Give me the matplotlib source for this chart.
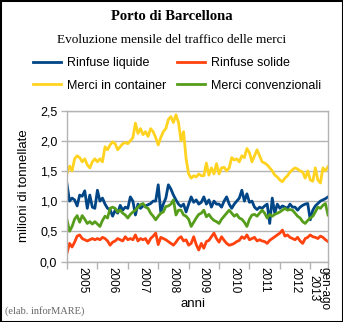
import numpy as np
import matplotlib
matplotlib.use("Agg")
import matplotlib.pyplot as plt
from matplotlib.patches import Rectangle

# monthly traffic, Jan 2005 - Aug 2013 (million tonnes)
liquide = [
    1.28, 1.00, 1.05, 1.02, 0.92, 1.10, 1.08, 1.17, 0.88, 1.10, 0.90, 0.88,
    1.18, 1.00, 1.05, 0.95, 0.88, 0.86, 0.75, 0.85, 0.80, 0.93, 0.85, 0.90,
    0.88, 1.07, 1.00, 0.77, 0.95, 0.88, 0.92, 0.92, 0.94, 0.96, 1.00, 1.00,
    1.27, 0.82, 0.95, 1.05, 1.27, 1.20, 1.10, 1.02, 0.95, 0.91, 0.95, 0.82,
    0.95, 1.07, 0.98, 1.02, 0.95, 0.98, 1.07, 0.95, 1.02, 0.90, 1.00, 0.95,
    0.95, 0.90, 1.00, 1.07, 0.95, 0.88, 0.95, 1.00, 1.05, 1.18, 1.00, 1.12,
    0.98, 1.00, 0.90, 0.86, 0.90, 0.88, 0.92, 0.95, 0.63, 1.05, 0.80, 0.95,
    0.88, 0.92, 0.90, 0.88, 0.95, 0.90, 0.90, 0.85, 0.90, 0.93, 0.95, 0.96,
    0.69, 0.85, 0.92, 0.96, 1.00, 1.02, 1.04, 1.07,
]
solide = [
    0.14, 0.30, 0.24, 0.32, 0.42, 0.44, 0.38, 0.36, 0.34, 0.36, 0.38, 0.36,
    0.38, 0.36, 0.40, 0.38, 0.34, 0.27, 0.32, 0.34, 0.38, 0.36, 0.34, 0.41,
    0.36, 0.38, 0.36, 0.44, 0.34, 0.38, 0.36, 0.38, 0.30, 0.38, 0.42, 0.47,
    0.28, 0.40, 0.38, 0.36, 0.33, 0.30, 0.27, 0.32, 0.38, 0.41, 0.34, 0.36,
    0.27, 0.30, 0.41, 0.28, 0.19, 0.30, 0.22, 0.33, 0.35, 0.41, 0.47, 0.38,
    0.32, 0.41, 0.35, 0.30, 0.27, 0.28, 0.30, 0.33, 0.35, 0.41, 0.38, 0.44,
    0.36, 0.38, 0.40, 0.34, 0.36, 0.34, 0.33, 0.30, 0.35, 0.38, 0.41, 0.44,
    0.47, 0.52, 0.42, 0.44, 0.40, 0.38, 0.36, 0.40, 0.34, 0.30, 0.38, 0.40,
    0.44, 0.41, 0.40, 0.38, 0.42, 0.40, 0.36, 0.33,
]
container = [
    1.46, 1.58, 1.50, 1.70, 1.75, 1.72, 1.65, 1.70, 1.60, 1.55, 1.65, 1.70,
    1.65, 1.70, 1.65, 1.90, 1.85, 1.93, 1.98, 1.95, 1.85, 1.90, 1.95, 1.97,
    1.95, 2.00, 2.05, 2.29, 2.12, 2.20, 2.10, 2.15, 2.07, 2.20, 2.15, 2.05,
    1.93, 2.05, 2.15, 2.20, 2.35, 2.40, 2.30, 2.43, 2.30, 2.00, 2.15, 1.70,
    1.45, 1.38, 1.42, 1.40, 1.45, 1.42, 1.42, 1.63, 1.43, 1.55, 1.45, 1.62,
    1.45, 1.55, 1.56, 1.50, 1.55, 1.72, 1.68, 1.70, 1.65, 1.75, 1.72, 1.87,
    1.80, 1.65, 1.75, 1.85, 1.75, 1.65, 1.63, 1.60, 1.55, 1.50, 1.43, 1.40,
    1.35, 1.32, 1.38, 1.42, 1.48, 1.52, 1.55, 1.53, 1.50, 1.48, 1.38, 1.50,
    1.35, 1.33, 1.55, 1.35, 1.30, 1.55, 1.50, 1.57,
]
convenzionali = [
    0.69, 0.50, 0.58, 0.70, 0.76, 0.65, 0.76, 0.70, 0.63, 0.66, 0.62, 0.66,
    0.62, 0.58, 0.68, 0.75, 0.72, 0.88, 0.90, 0.88, 0.82, 0.85, 0.80, 0.77,
    0.72, 0.78, 0.82, 0.85, 0.90, 0.94, 0.96, 0.90, 0.88, 0.80, 0.75, 0.69,
    0.75, 0.80, 0.82, 0.91, 0.92, 0.95, 1.02, 0.77, 0.85, 0.85, 0.77, 0.75,
    0.70, 0.58, 0.65, 0.72, 0.78, 0.80, 0.85, 0.74, 0.78, 0.72, 0.68, 0.66,
    0.63, 0.70, 0.75, 0.80, 0.85, 0.80, 0.75, 0.78, 0.72, 0.70, 0.65, 0.58,
    0.70, 0.77, 0.78, 0.75, 0.80, 0.85, 0.80, 0.72, 0.78, 0.75, 0.78, 0.80,
    0.82, 0.85, 0.88, 0.85, 0.86, 0.85, 0.80, 0.75, 0.72, 0.66, 0.63, 0.68,
    0.72, 0.75, 0.82, 0.90, 0.88, 0.93, 0.96, 0.77,
]

series_names = ["Rinfuse liquide", "Rinfuse solide", "Merci in container", "Merci convenzionali"]
series_colors = ["#004586", "#ff420e", "#ffd320", "#579d1c"]
year_labels = ["2005", "2006", "2007", "2008", "2009", "2010", "2011", "2012", "gen-ago\n2013"]
y_ticks = [0.0, 0.5, 1.0, 1.5, 2.0, 2.5]

SANS = "Liberation Sans"
SERIF = "Liberation Serif"
GRID = "#b3b3b3"

fig = plt.figure(figsize=(3.43, 3.22), dpi=100)
fig.patch.set_facecolor("white")
fig.patches.append(Rectangle((0, 0), 1, 1, transform=fig.transFigure, fill=False,
                             edgecolor="black", linewidth=2.2, zorder=10))

ax = fig.add_axes([67 / 343, 1 - 261.5 / 322, 261 / 343, 151 / 322])

x = np.arange(len(liquide))
data = [liquide, solide, container, convenzionali]
lines = []
for vals, name, col in zip(data, series_names, series_colors):
    ln, = ax.plot(x, vals, color=col, linewidth=2.0, label=name, solid_joinstyle="round")
    lines.append(ln)

ax.set_xlim(0, len(x) - 1)
ax.set_ylim(0, 2.5)
ax.set_yticks(y_ticks)
ax.set_yticklabels([f"{v:.1f}".replace(".", ",") for v in y_ticks], fontsize=9, family=SANS)
ax.yaxis.grid(True, color=GRID, linewidth=1.0)
ax.set_axisbelow(True)

# year boundaries as major ticks, year names centred in between
bounds = list(range(0, 97, 12)) + [len(x) - 1]
centers = [(a + b) / 2 for a, b in zip(bounds[:-1], bounds[1:])]
ax.set_xticks(bounds)
ax.set_xticklabels([])
ax.set_xticks(centers, minor=True)
ax.set_xticklabels(year_labels, minor=True, rotation=270, fontsize=8.5, family=SANS,
                   va="top", ha="center", linespacing=0.9)
ax.tick_params(axis="x", which="major", length=5, color=GRID, width=1)
ax.tick_params(axis="x", which="minor", length=0, pad=4)
ax.tick_params(axis="y", length=4, color=GRID, width=1, pad=3)

for side in ["left", "right", "top", "bottom"]:
    ax.spines[side].set_color(GRID)
    ax.spines[side].set_linewidth(1.0)

ax.set_ylabel("milioni di tonnellate", fontsize=9.5, family=SANS)
ax.yaxis.set_label_coords(-37 / 261, 0.5)
fig.text(193 / 343, 1 - 304 / 322, "anni", fontsize=9.5, family=SANS, ha="center", va="center")

fig.text(0.5, 1 - 17 / 322, "Porto di Barcellona", fontsize=10.5, fontweight="bold",
         family=SERIF, ha="center", va="center")
fig.text(0.5, 1 - 40 / 322, "Evoluzione mensile del traffico delle merci", fontsize=9.5,
         family=SERIF, ha="center", va="center")
fig.text(5 / 343, 1 - 311 / 322, "(elab. inforMARE)", fontsize=7.5, family=SERIF,
         color="#666666", ha="left", va="center")

# legend laid out row by row: ncol fills columns first, so interleave
leg_order = [0, 2, 1, 3]
fig.legend(handles=[lines[i] for i in leg_order], loc="upper left",
           bbox_to_anchor=(33 / 343, 1 - 57 / 322),
           ncol=2, frameon=False, prop={"family": SANS, "size": 9},
           handlelength=2.2, handletextpad=0.5, columnspacing=0.9,
           labelspacing=0.85, borderpad=0, borderaxespad=0)

fig.savefig("out.png", dpi=100, facecolor="white")
